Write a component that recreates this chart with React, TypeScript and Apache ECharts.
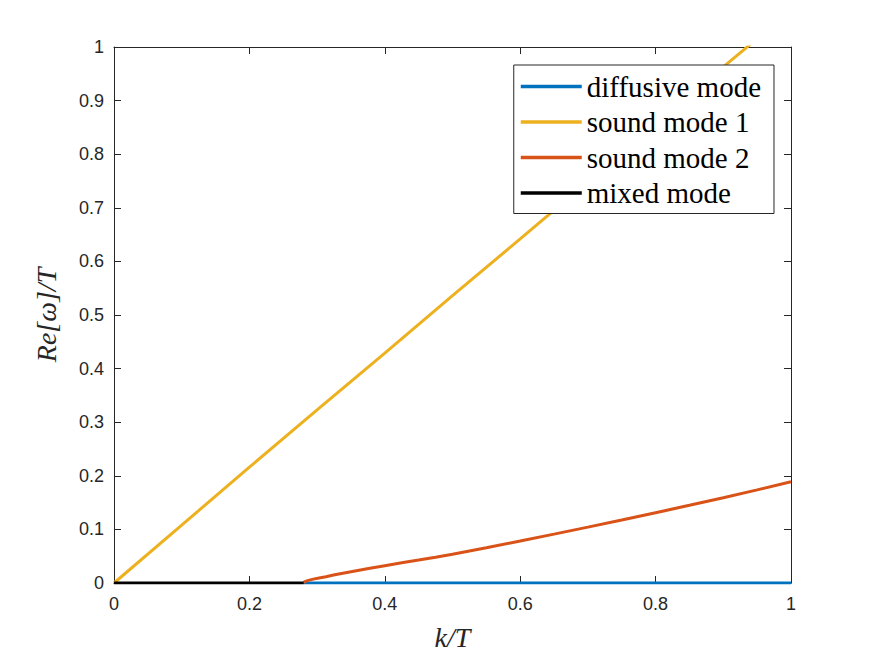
import React, { useEffect, useRef } from "react";
import * as echarts from "echarts";

const seriesNames = ["diffusive mode", "sound mode 1", "sound mode 2", "mixed mode"];
const seriesColors = ["#0072BD", "#EDB120", "#D95319", "#000000"];

const diffusiveMode: [number, number][] = [
  [0.28, 0],
  [1.0, 0],
];

const soundMode1: [number, number][] = [
  [0, 0],
  [0.1, 0.108],
  [0.2, 0.216],
  [0.3, 0.323],
  [0.4, 0.429],
  [0.5, 0.536],
  [0.6, 0.642],
  [0.7, 0.749],
  [0.8, 0.856],
  [0.9, 0.963],
  [0.94, 1.005],
];

const soundMode2: [number, number][] = [
  [0.28, 0],
  [0.281, 0.0018],
  [0.283, 0.0031],
  [0.286, 0.0045],
  [0.29, 0.0059],
  [0.296, 0.0077],
  [0.303, 0.0095],
  [0.313, 0.0118],
  [0.326, 0.0153],
  [0.34, 0.0187],
  [0.356, 0.0224],
  [0.378, 0.0274],
  [0.4, 0.0322],
  [0.425, 0.0376],
  [0.45, 0.0428],
  [0.475, 0.0482],
  [0.5, 0.0538],
  [0.55, 0.0658],
  [0.6, 0.0783],
  [0.65, 0.0912],
  [0.7, 0.1043],
  [0.75, 0.1176],
  [0.8, 0.1312],
  [0.85, 0.1449],
  [0.9, 0.1592],
  [0.95, 0.1738],
  [1.0, 0.1888],
];

const mixedMode: [number, number][] = [
  [0, 0],
  [0.28, 0],
];

const xTicks = { min: 0, max: 1, interval: 0.2 };
const yTicks = { min: 0, max: 1, interval: 0.1 };

export default function App() {
  const ref = useRef<HTMLDivElement>(null);

  useEffect(() => {
    if (!ref.current) return;
    const chart = echarts.init(ref.current, undefined, { renderer: "svg" });
    const axisColor = "#262626";
    const sans = "Liberation Sans";
    const serif = "Liberation Serif";
    const fmt = (v: number) => String(Math.round(v * 10) / 10);
    const allData = [diffusiveMode, soundMode1, soundMode2, mixedMode];

    chart.setOption({
      animation: false,
      backgroundColor: "#ffffff",
      grid: { left: 114, right: 84, top: 47, bottom: 72, containLabel: false },
      xAxis: [
        {
          type: "value",
          ...xTicks,
          position: "bottom",
          name: "k/T",
          nameLocation: "middle",
          nameGap: 40,
          nameTextStyle: { fontFamily: serif, fontStyle: "italic", fontSize: 28, color: axisColor },
          axisLine: { show: true, onZero: false, lineStyle: { color: axisColor, width: 1 } },
          axisTick: { show: true, inside: true, length: 7, lineStyle: { color: axisColor } },
          axisLabel: { color: axisColor, fontSize: 18, fontFamily: sans, margin: 12, formatter: fmt },
          splitLine: { show: false },
        },
        {
          type: "value",
          ...xTicks,
          position: "top",
          axisLine: { show: true, onZero: false, lineStyle: { color: axisColor, width: 1 } },
          axisTick: { show: true, inside: true, length: 7, lineStyle: { color: axisColor } },
          axisLabel: { show: false },
          splitLine: { show: false },
        },
      ],
      yAxis: [
        {
          type: "value",
          ...yTicks,
          position: "left",
          name: "Re[ω]/T",
          nameLocation: "middle",
          nameGap: 54,
          nameRotate: 90,
          nameTextStyle: { fontFamily: serif, fontStyle: "italic", fontSize: 28, color: axisColor },
          axisLine: { show: true, onZero: false, lineStyle: { color: axisColor, width: 1 } },
          axisTick: { show: true, inside: true, length: 7, lineStyle: { color: axisColor } },
          axisLabel: { color: axisColor, fontSize: 18, fontFamily: sans, margin: 10, formatter: fmt },
          splitLine: { show: false },
        },
        {
          type: "value",
          ...yTicks,
          position: "right",
          axisLine: { show: true, onZero: false, lineStyle: { color: axisColor, width: 1 } },
          axisTick: { show: true, inside: true, length: 7, lineStyle: { color: axisColor } },
          axisLabel: { show: false },
          splitLine: { show: false },
        },
      ],
      legend: {
        show: true,
        orient: "vertical",
        right: 101,
        top: 65,
        backgroundColor: "#ffffff",
        borderColor: "#262626",
        borderWidth: 1,
        borderRadius: 0,
        padding: [7, 13, 6, 7],
        itemGap: 6.5,
        itemWidth: 61,
        itemHeight: 3.5,
        icon: "rect",
        textStyle: { fontFamily: serif, fontSize: 29, color: "#000000" },
        data: seriesNames,
      },
      series: seriesNames.map((name, i) => ({
        name,
        type: "line",
        xAxisIndex: 0,
        yAxisIndex: 0,
        data: allData[i],
        showSymbol: false,
        symbol: "none",
        smooth: false,
        clip: true,
        color: seriesColors[i],
        lineStyle: { color: seriesColors[i], width: 3 },
        z: 2 + i,
      })),
    });

    return () => chart.dispose();
  }, []);

  return (
    <div
      ref={ref}
      style={{ position: "fixed", left: 0, top: 0, width: 875, height: 656, background: "#fff" }}
    />
  );
}
